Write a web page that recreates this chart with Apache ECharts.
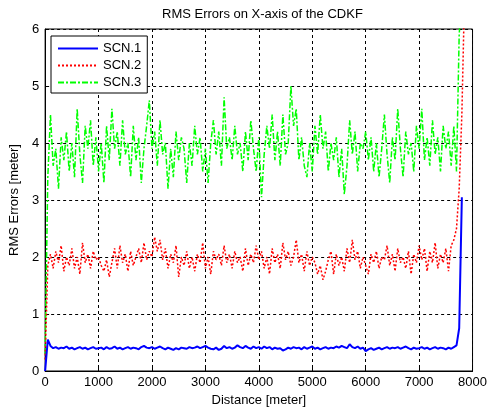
<!DOCTYPE html>
<html>
<head>
<meta charset="utf-8">
<script src="https://cdn.jsdelivr.net/npm/echarts@6/dist/echarts.min.js"></script>
<style>
html, body { margin: 0; padding: 0; background: #fff; }
#chart { width: 490px; height: 413px; }
</style>
</head>
<body>
<div id="chart"></div>
<script>
// samples every 50 m along the track
const STEP = 50

const scn1 = [
  0.0, 0.55, 0.44, 0.40, 0.42, 0.39, 0.41, 0.40, 0.43, 0.39,
  0.41, 0.38, 0.40, 0.42, 0.39, 0.41, 0.38, 0.40, 0.42, 0.39,
  0.40, 0.41, 0.38, 0.42, 0.39, 0.40, 0.43, 0.39, 0.41, 0.38,
  0.40, 0.42, 0.39, 0.41, 0.40, 0.38, 0.42, 0.44, 0.41, 0.40,
  0.42, 0.39, 0.41, 0.43, 0.40, 0.38, 0.41, 0.39, 0.37, 0.40,
  0.38, 0.41, 0.40, 0.39, 0.42, 0.40, 0.41, 0.43, 0.40, 0.42,
  0.44, 0.41, 0.39, 0.38, 0.41, 0.37, 0.39, 0.44, 0.40, 0.42,
  0.39, 0.41, 0.45, 0.42, 0.40, 0.44, 0.41, 0.39, 0.43, 0.40,
  0.42, 0.39, 0.43, 0.40, 0.42, 0.38, 0.41, 0.39, 0.40, 0.36,
  0.38, 0.41, 0.39, 0.42, 0.40, 0.41, 0.38, 0.42, 0.39, 0.41,
  0.43, 0.39, 0.41, 0.38, 0.40, 0.42, 0.39, 0.41, 0.40, 0.43,
  0.41, 0.44, 0.42, 0.40, 0.47, 0.42, 0.40, 0.43, 0.39, 0.41,
  0.35, 0.38, 0.40, 0.37, 0.39, 0.41, 0.38, 0.40, 0.42, 0.39,
  0.41, 0.40, 0.42, 0.39, 0.41, 0.43, 0.40, 0.38, 0.41, 0.39,
  0.40, 0.42, 0.39, 0.41, 0.38, 0.40, 0.42, 0.39, 0.41, 0.40,
  0.38, 0.41, 0.39, 0.42, 0.45, 0.75, 3.05
]

const scn2 = [
  0.2, 1.85, 2.05, 1.8, 2.1, 1.9, 2.2, 1.75, 2.0, 1.85,
  2.15, 1.8, 2.0, 1.7, 2.25, 1.9, 2.05, 1.8, 2.1, 1.95,
  2.0, 1.85, 1.75, 1.95, 1.65, 1.9, 2.15, 1.8, 2.2, 1.9,
  2.05, 1.75, 2.1, 1.85, 2.0, 2.15, 1.9, 2.25, 1.95, 2.1,
  2.0, 2.35, 2.1, 2.3, 1.95, 2.15, 1.8, 2.05, 1.9, 2.2,
  1.65, 2.0, 1.85, 2.1, 1.8, 2.0, 1.75, 2.05, 1.9, 2.25,
  1.8, 2.0, 1.7, 2.1, 1.95, 2.05, 1.85, 2.2, 1.9, 2.05,
  1.8, 2.1, 1.9, 2.0, 1.75, 2.15, 1.85, 2.05, 1.9, 2.2,
  1.95, 2.1, 1.8, 2.0, 1.7, 2.15, 1.9, 2.05, 1.8, 2.25,
  1.95, 2.1, 1.85, 2.0, 2.3, 1.9, 2.05, 1.75, 2.1, 1.85,
  2.0, 1.9, 1.7, 1.85, 1.6, 1.75, 1.95, 2.1, 1.7, 2.05,
  1.85, 2.0, 1.75, 2.15, 1.9, 2.3, 1.95, 2.1, 1.8, 2.0,
  1.85, 1.7, 2.05, 1.9, 2.1, 1.8, 2.0, 1.95, 2.2, 1.85,
  2.05, 1.75, 2.15, 1.9, 2.0, 1.8, 2.1, 1.7, 2.05, 1.9,
  2.2, 1.95, 2.15, 1.75, 2.1, 1.9, 2.25, 1.8, 2.05, 1.9,
  2.15, 1.75, 2.2, 2.3, 2.5, 3.2, 4.5, 6.6
]

const scn3 = [
  0.3, 3.4, 4.5, 3.6, 3.9, 3.2, 4.1, 3.7, 4.2, 3.5,
  4.0, 3.4, 4.6, 3.8, 3.3, 4.3, 3.9, 4.4, 3.6, 4.1,
  3.5, 4.0, 3.3, 4.3, 3.7, 4.6, 3.9, 4.2, 3.6, 4.4,
  3.8, 4.0, 3.4, 4.3, 3.7, 4.1, 3.3, 3.9, 4.3, 4.75,
  3.9, 4.2, 3.6, 4.4, 3.8, 4.0, 3.2, 3.9, 3.4, 4.2,
  3.7, 4.1, 3.9, 3.3, 4.0, 3.6, 4.3, 3.8, 4.1, 3.5,
  3.9, 3.3, 4.0, 4.4, 3.8, 4.2, 3.6, 4.8, 3.9, 4.1,
  3.7, 4.3, 3.8, 4.0, 3.5, 4.2, 3.7, 4.4, 3.9, 3.5,
  4.1, 3.05, 3.8, 4.3, 3.9, 4.5, 3.7, 4.2, 3.6, 4.5,
  3.8, 4.0, 5.0, 4.3, 4.6, 3.7, 4.1, 3.6, 3.4, 4.0,
  3.5, 4.3, 3.8, 4.5, 3.9, 4.2, 3.5, 4.0, 3.7, 4.1,
  3.4, 3.9, 3.1, 3.6, 4.4, 3.8, 4.2, 3.5, 4.0, 3.9,
  4.2, 3.7, 4.1, 3.5, 4.0, 3.4, 3.9, 4.5, 3.8, 3.3,
  4.1, 3.7, 4.6, 3.9, 3.4, 4.2, 3.8, 4.0, 3.5, 4.3,
  3.9, 4.6, 3.7, 4.1, 3.6, 4.4, 3.8, 4.1, 3.5, 4.3,
  3.9, 4.2, 3.6, 4.3, 3.5, 5.9, 6.6
]

const seriesNames = ['SCN.1', 'SCN.2', 'SCN.3']

function toPairs(arr) {
  return arr.map((v, i) => [i * STEP, v])
}

const font = 'Liberation Sans, Arial, sans-serif'
const chart = echarts.init(document.getElementById('chart'), null, { renderer: 'canvas' })

chart.setOption({
  animation: false,
  backgroundColor: '#fff',
  title: {
    text: 'RMS Errors on X-axis of the CDKF',
    left: 157,
    top: 3,
    textStyle: { fontFamily: font, fontSize: 13, fontWeight: 'normal', color: '#000' }
  },
  grid: {
    left: 43, right: 13, top: 29, bottom: 42,
    show: true, borderColor: '#000', borderWidth: 1
  },
  legend: {
    orient: 'vertical',
    left: 51,
    top: 36,
    padding: [6, 6, 4, 6],
    itemGap: 4,
    itemWidth: 40,
    itemHeight: 14,
    itemStyle: { opacity: 0 },
    backgroundColor: '#fff',
    borderColor: '#000',
    borderWidth: 1,
    borderRadius: 0,
    textStyle: { fontFamily: font, fontSize: 13, color: '#000' },
    data: seriesNames
  },
  xAxis: {
    type: 'value',
    min: 0, max: 8000, interval: 1000,
    name: 'Distance [meter]',
    nameLocation: 'middle',
    nameGap: 22,
    nameTextStyle: { fontFamily: font, fontSize: 13, color: '#000' },
    axisLine: { show: true, lineStyle: { color: '#000' } },
    axisTick: { inside: true, length: 4, lineStyle: { color: '#000' } },
    axisLabel: { fontFamily: font, fontSize: 13, color: '#000', margin: 5, formatter: v => String(v) },
    splitLine: { show: true, lineStyle: { color: '#000', type: [3, 3], width: 1 } }
  },
  yAxis: {
    type: 'value',
    min: 0, max: 6, interval: 1,
    name: 'RMS Errors [meter]',
    nameLocation: 'middle',
    nameGap: 20,
    nameTextStyle: { fontFamily: font, fontSize: 13, color: '#000' },
    axisLine: { show: true, lineStyle: { color: '#000' } },
    axisTick: { inside: true, length: 4, lineStyle: { color: '#000' } },
    axisLabel: { fontFamily: font, fontSize: 13, color: '#000', margin: 6 },
    splitLine: { show: true, lineStyle: { color: '#000', type: [3, 3], width: 1 } }
  },
  series: [
    {
      name: 'SCN.1',
      type: 'line',
      symbol: 'none',
      clip: true,
      lineStyle: { color: '#0000ff', width: 2, type: 'solid' },
      itemStyle: { color: '#0000ff' },
      data: toPairs(scn1),
      z: 3
    },
    {
      name: 'SCN.2',
      type: 'line',
      symbol: 'none',
      clip: true,
      lineStyle: { color: '#ff0000', width: 1.5, type: [2, 2] },
      itemStyle: { color: '#ff0000' },
      data: toPairs(scn2),
      z: 2
    },
    {
      name: 'SCN.3',
      type: 'line',
      symbol: 'none',
      clip: true,
      lineStyle: { color: '#00ff00', width: 1.5, type: [6, 2, 2, 2] },
      itemStyle: { color: '#00ff00' },
      data: toPairs(scn3),
      z: 1
    }
  ]
})
</script>
</body>
</html>
